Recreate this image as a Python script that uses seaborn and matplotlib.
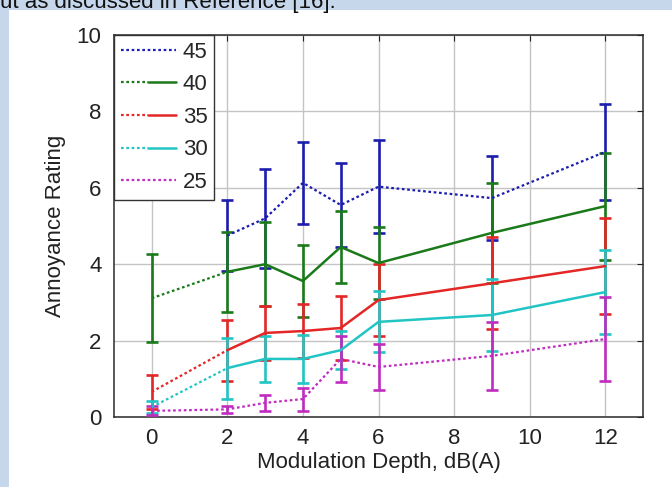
import numpy as np
import pandas as pd
import seaborn as sns
import matplotlib.pyplot as plt
from matplotlib.lines import Line2D
from matplotlib.patches import Rectangle
from matplotlib.legend_handler import HandlerTuple

# modulation depth, dB(A)
depth = [0, 2, 3, 4, 5, 6, 9, 12]

levels = ["45", "40", "35", "30", "25"]
colors = ["#1c1cae", "#1a7a1a", "#e32626", "#22c4c4", "#c02cc0"]

rating_45 = [np.nan, 4.75, 5.20, 6.13, 5.55, 6.03, 5.73, 6.94]
err_45 = [np.nan, 0.93, 1.30, 1.07, 1.10, 1.22, 1.10, 1.26]
rating_40 = [3.11, 3.80, 4.00, 3.56, 4.45, 4.03, 4.82, 5.52]
err_40 = [1.15, 1.05, 1.10, 0.95, 0.95, 0.95, 1.30, 1.40]
rating_35 = [0.66, 1.75, 2.20, 2.25, 2.33, 3.06, 3.50, 3.95]
err_35 = [0.45, 0.80, 0.70, 0.70, 0.85, 0.95, 1.20, 1.25]
rating_30 = [0.26, 1.28, 1.52, 1.52, 1.75, 2.49, 2.67, 3.27]
err_30 = [0.15, 0.80, 0.60, 0.62, 0.50, 0.80, 0.95, 1.10]
rating_25 = [0.16, 0.20, 0.37, 0.47, 1.52, 1.31, 1.60, 2.04]
err_25 = [0.12, 0.10, 0.20, 0.30, 0.60, 0.60, 0.90, 1.10]

ratings = [rating_45, rating_40, rating_35, rating_30, rating_25]
errors = [err_45, err_40, err_35, err_30, err_25]
# series whose first segment (0 -> 2 dB) is dotted and the rest solid
mixed = ["40", "35", "30"]

dotted = (0, (1.2, 1.2))

sns.set_style("white")
plt.rcParams["font.family"] = ["Liberation Sans", "DejaVu Sans"]

fig = plt.figure(figsize=(6.72, 4.87), dpi=100)
fig.patch.set_facecolor("#c7d7eb")
fig.patches.append(Rectangle((9 / 672, 0), 1, 1 - 10 / 487, transform=fig.transFigure,
                             facecolor="white", edgecolor="none", zorder=-1))
fig.text(0.0, 1 - 8 / 487, "ut as discussed in Reference [16].", fontsize=16,
         color="#111111", va="baseline", ha="left")

ax = fig.add_axes([114 / 672, 1 - 417 / 487, 529 / 672, 382 / 487])

handles = []
for lvl, col, r, e in zip(levels, colors, ratings, errors):
    df = pd.DataFrame({"depth": depth, "rating": r, "err": e}).dropna()
    ax.errorbar(df["depth"], df["rating"], yerr=df["err"], fmt="none", ecolor=col,
                elinewidth=1.9, capsize=4, capthick=1.9, zorder=3)
    if lvl in mixed:
        first = df[df["depth"] <= 2]
        rest = df[df["depth"] >= 2]
        sns.lineplot(data=first, x="depth", y="rating", color=col, linestyle=dotted,
                     lw=1.6, ax=ax, zorder=4)
        sns.lineplot(data=rest, x="depth", y="rating", color=col, lw=1.8, ax=ax, zorder=4)
        handles.append((Line2D([], [], color=col, linestyle=dotted, lw=1.6),
                        Line2D([], [], color=col, lw=1.8)))
    else:
        sns.lineplot(data=df, x="depth", y="rating", color=col, linestyle=dotted,
                     lw=1.6, ax=ax, zorder=4)
        handles.append(Line2D([], [], color=col, linestyle=dotted, lw=1.6))

ax.set_xlim(-1, 13)
ax.set_ylim(0, 10)
ax.set_xticks([0, 2, 4, 6, 8, 10, 12])
ax.set_yticks([0, 2, 4, 6, 8, 10])
ax.grid(True, color="#c4c4c4", lw=1)
ax.set_axisbelow(True)
ax.tick_params(direction="in", top=True, right=True, length=4, width=0.8,
               labelsize=16, colors="#222222")
ax.tick_params(axis="x", pad=8)
ax.tick_params(axis="y", pad=9)
for s in ax.spines.values():
    s.set_color("#2a2a2a")
    s.set_linewidth(1.1)

ax.set_xlabel("Modulation Depth, dB(A)", fontsize=16, color="#222222", labelpad=2)
ax.set_ylabel("Annoyance Rating", fontsize=16, color="#222222", labelpad=8)

leg = ax.legend(handles, levels, loc="upper left", bbox_to_anchor=(0, 1),
                borderaxespad=0, fontsize=16, frameon=True, fancybox=False,
                framealpha=1, edgecolor="#333333", handlelength=2.5,
                handletextpad=0.3, labelspacing=0.52, borderpad=0.3,
                handler_map={tuple: HandlerTuple(ndivide=None, pad=0)})
leg.get_frame().set_linewidth(1.0)
leg.set_zorder(10)

fig.savefig("out.png", dpi=100)
